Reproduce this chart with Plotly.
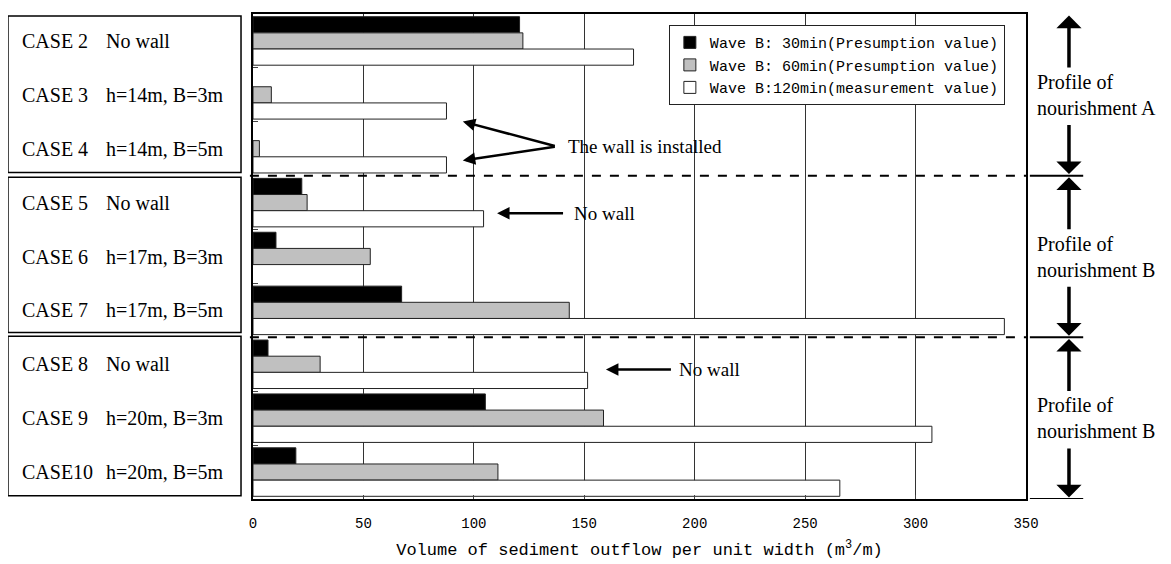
import plotly.graph_objects as go

# ---- data ----
cases = ["CASE 2", "CASE 3", "CASE 4", "CASE 5", "CASE 6", "CASE 7", "CASE 8", "CASE 9", "CASE10"]
conditions = ["No wall", "h=14m, B=3m", "h=14m, B=5m",
              "No wall", "h=17m, B=3m", "h=17m, B=5m",
              "No wall", "h=20m, B=3m", "h=20m, B=5m"]
wave30 = [120.7, None, None, 22.1, 10.4, 67.3, 6.8, 105.2, 19.4]
wave60 = [122.2, 8.3, 2.9, 24.5, 53.1, 143.2, 30.4, 158.7, 110.9]
wave120 = [172.3, 87.6, 87.6, 104.4, None, 340.2, 151.5, 307.4, 265.7]
series_names = ["Wave B: 30min(Presumption value)",
                "Wave B: 60min(Presumption value)",
                "Wave B:120min(measurement value)"]
x_ticks = [0, 50, 100, 150, 200, 250, 300, 350]
profiles = ["Profile of<br>nourishment A", "Profile of<br>nourishment B", "Profile of<br>nourishment B"]

SERIF = "Liberation Serif, Times New Roman, serif"
MONO = "Liberation Mono, DejaVu Sans Mono, monospace"

fig = go.Figure()
for vals, name, col in zip([wave30, wave60, wave120], series_names, ["#000000", "#c0c0c0", "#ffffff"]):
    fig.add_trace(go.Bar(
        y=cases, x=vals, name=name, orientation="h",
        marker=dict(color=col, line=dict(color="#222222", width=1)),
    ))

fig.update_layout(
    width=1171, height=564,
    margin=dict(l=245, r=153, t=4, b=73),
    paper_bgcolor="white", plot_bgcolor="white",
    barmode="group", bargap=0.1, bargroupgap=0,
    showlegend=True,
    legend=dict(x=0.538, y=0.977, xanchor="left", yanchor="top",
                bgcolor="white", bordercolor="#222222", borderwidth=1,
                font=dict(family=MONO, size=15, color="black"),
                itemwidth=30, tracegroupgap=0),
    font=dict(family=MONO, color="black"),
)

fig.update_xaxes(
    range=[0, 350], tickvals=x_ticks, ticktext=[str(v) for v in x_ticks],
    showgrid=True, gridcolor="#333333", gridwidth=1,
    showline=True, linecolor="black", linewidth=1.5, mirror=True,
    ticks="inside", ticklen=4, tickcolor="#444444",
    tickfont=dict(family=MONO, size=14, color="black"),
    ticklabelstandoff=10,
    zeroline=False,
    title=dict(text="Volume of sediment outflow per unit width (m<sup>3</sup>/m)",
               font=dict(family=MONO, size=17, color="black"), standoff=13),
)
fig.update_yaxes(
    categoryorder="array", categoryarray=cases,
    range=[8.5, -0.5],
    showticklabels=False, ticks="inside", tickson="boundaries", ticklen=5, tickcolor="#444444",
    showgrid=False,
    showline=True, linecolor="black", linewidth=2, mirror=True,
)

shapes = []
# dashed separators between profiles
for yb in [2.5, 5.5]:
    shapes.append(dict(type="line", xref="paper", yref="y", x0=-0.004, x1=1, y0=yb, y1=yb,
                       line=dict(color="black", width=2, dash="dash")))
# left label boxes
for y0, y1 in [(-0.463, 2.44), (2.53, 5.41), (5.48, 8.44)]:
    shapes.append(dict(type="rect", xref="paper", yref="y", x0=-0.317, x1=-0.0155, y0=y0, y1=y1,
                       line=dict(color="black", width=1.5), fillcolor="rgba(0,0,0,0)", layer="above"))
# right bracket lines
for yb in [-0.54, 2.5, 5.5, 8.5]:
    shapes.append(dict(type="line", xref="paper", yref="y", x0=1.005, x1=1.074, y0=yb, y1=yb,
                       line=dict(color="black", width=2)))
fig.update_layout(shapes=shapes)

ann = []
# left labels
for c, cond in zip(cases, conditions):
    ann.append(dict(xref="paper", yref="y", x=-0.3014, y=c, text=c, showarrow=False,
                    xanchor="left", yanchor="middle", font=dict(family=SERIF, size=20, color="black")))
    ann.append(dict(xref="paper", yref="y", x=-0.1928, y=c, text=cond, showarrow=False,
                    xanchor="left", yanchor="middle", font=dict(family=SERIF, size=20, color="black")))

# right profile labels with vertical arrows
ax_x = 1.0556
sections = [(-0.5, 2.5), (2.5, 5.5), (5.5, 8.5)]
for (s0, s1), txt in zip(sections, profiles):
    mid = (s0 + s1) / 2
    ann.append(dict(xref="paper", yref="y", x=1.0115, y=mid, text=txt, showarrow=False,
                    xanchor="left", yanchor="middle", align="left",
                    font=dict(family=SERIF, size=20, color="black")))
    ann.append(dict(xref="paper", yref="y", x=ax_x, y=s0 + 0.03, ax=0, ay=54, text=" ",
                    showarrow=True, arrowhead=1, arrowsize=1.2, arrowwidth=3.5, arrowcolor="black",
                    font=dict(size=1)))
    ann.append(dict(xref="paper", yref="y", x=ax_x, y=s1 - 0.03, ax=0, ay=-51, text=" ",
                    showarrow=True, arrowhead=1, arrowsize=1.2, arrowwidth=3.5, arrowcolor="black",
                    font=dict(size=1)))

# in-plot annotations
ann.append(dict(xref="x", yref="y", x=141.7, y=1.958, text="The wall is installed", showarrow=False,
                xanchor="left", yanchor="middle", font=dict(family=SERIF, size=19, color="black")))
ann.append(dict(xref="x", yref="y", x=95, y=1.496, ax=94, ay=25, text=" ", showarrow=True,
                arrowhead=2, arrowsize=1, arrowwidth=2.5, arrowcolor="black", font=dict(size=1)))
ann.append(dict(xref="x", yref="y", x=95, y=2.217, ax=94, ay=-14, text=" ", showarrow=True,
                arrowhead=2, arrowsize=1, arrowwidth=2.5, arrowcolor="black", font=dict(size=1)))
ann.append(dict(xref="x", yref="y", x=144.4, y=3.197, text="No wall", showarrow=False,
                xanchor="left", yanchor="middle", font=dict(family=SERIF, size=19, color="black")))
ann.append(dict(xref="x", yref="y", x=110.5, y=3.197, ax=68, ay=0, text=" ", showarrow=True,
                arrowhead=2, arrowsize=1, arrowwidth=2.5, arrowcolor="black", font=dict(size=1)))
ann.append(dict(xref="x", yref="y", x=191.9, y=6.099, text="No wall", showarrow=False,
                xanchor="left", yanchor="middle", font=dict(family=SERIF, size=19, color="black")))
ann.append(dict(xref="x", yref="y", x=159.8, y=6.099, ax=67, ay=0, text=" ", showarrow=True,
                arrowhead=2, arrowsize=1, arrowwidth=2.5, arrowcolor="black", font=dict(size=1)))
fig.update_layout(annotations=ann)

fig.write_html("out.html")
